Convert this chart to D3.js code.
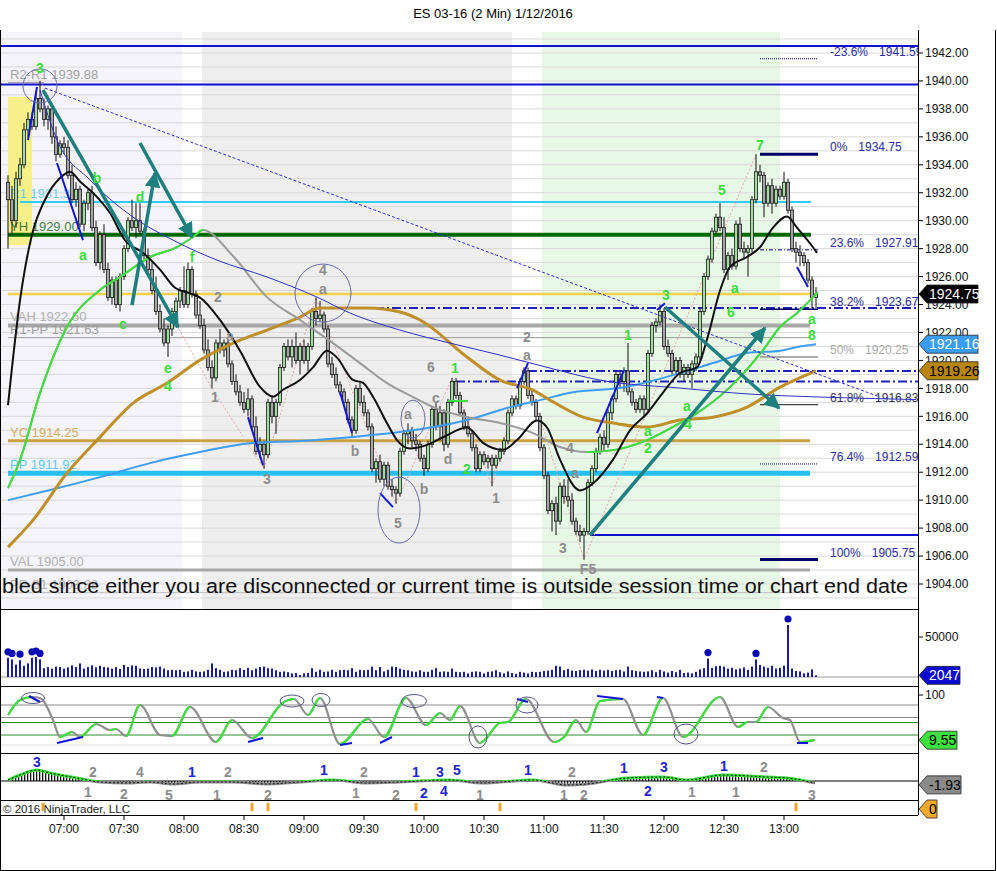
<!DOCTYPE html>
<html><head><meta charset="utf-8">
<script src="https://cdn.jsdelivr.net/npm/d3@7"></script>
<style>body{margin:0;background:#fff;} svg{display:block;font-family:Arial,"Liberation Sans",sans-serif;}</style>
</head><body><svg id="c" width="997" height="871"></svg>
<script>
// ---------------- DATA ----------------
const chartTitle = "ES 03-16 (2 Min)  1/12/2016";
const sessionStart = "06:32";
const barMinutes = 2;
const timeTickLabels = ["07:00","07:30","08:00","08:30","09:00","09:30","10:00","10:30","11:00","11:30","12:00","12:30","13:00"];
const priceTicks = [1904,1906,1908,1910,1912,1914,1916,1918,1920,1922,1924,1926,1928,1930,1932,1934,1936,1938,1940,1942];

// [open, high, low, close] per 2-min bar
const candles = [
[1932.75,1933.25,1928.0,1931.5],[1931.5,1932.5,1929.0,1930.0],[1930.0,1933.5,1929.5,1933.0],[1933.0,1934.5,1932.5,1934.0],[1934.0,1937.0,1933.75,1936.5],[1936.5,1937.75,1936.0,1937.25],[1937.25,1937.75,1936.5,1936.75],[1936.75,1939.25,1936.5,1938.75],[1938.75,1940.0,1937.75,1938.0],[1938.0,1938.75,1936.75,1937.25],
[1937.25,1938.25,1936.5,1938.0],[1938.0,1938.25,1935.5,1936.0],[1936.0,1936.75,1934.25,1934.75],[1934.75,1935.75,1934.5,1935.5],[1935.5,1936.0,1934.75,1935.25],[1935.25,1935.75,1933.0,1933.25],[1933.25,1934.0,1931.25,1931.5],[1931.5,1932.75,1931.0,1932.25],[1932.25,1932.5,1929.5,1929.75],[1929.75,1931.5,1929.25,1931.25],
[1931.25,1932.25,1930.75,1932.0],[1932.0,1932.5,1929.25,1929.5],[1929.5,1930.0,1926.75,1927.0],[1927.0,1929.25,1926.5,1929.0],[1929.0,1929.75,1926.25,1926.5],[1926.5,1927.0,1924.25,1924.5],[1924.5,1926.0,1924.0,1925.75],[1925.75,1926.0,1923.75,1924.0],[1924.0,1926.25,1923.5,1926.0],[1926.0,1928.25,1925.75,1928.0],
[1928.0,1930.25,1927.75,1930.0],[1930.0,1931.5,1929.25,1929.5],[1929.5,1931.25,1928.75,1930.0],[1930.0,1931.25,1929.0,1929.25],[1929.25,1929.5,1927.25,1927.5],[1927.5,1928.0,1926.25,1926.5],[1926.5,1927.0,1924.75,1925.0],[1925.0,1926.0,1923.25,1923.5],[1923.5,1924.0,1922.0,1922.25],[1922.25,1923.0,1921.0,1921.25],
[1921.25,1922.5,1920.25,1922.25],[1922.25,1923.75,1921.75,1923.5],[1923.5,1924.5,1923.0,1924.25],[1924.25,1925.25,1923.75,1925.0],[1925.0,1926.75,1923.75,1924.0],[1924.0,1927.0,1923.75,1926.5],[1926.5,1926.75,1924.5,1924.75],[1924.75,1925.0,1923.0,1923.25],[1923.25,1924.25,1922.25,1922.5],[1922.5,1923.0,1920.5,1920.75],
[1920.75,1921.5,1919.25,1919.5],[1919.5,1920.0,1918.0,1918.75],[1918.75,1921.5,1918.5,1921.25],[1921.25,1922.25,1920.5,1920.75],[1920.75,1921.5,1920.25,1921.25],[1921.25,1921.5,1919.5,1919.75],[1919.75,1920.0,1918.25,1918.5],[1918.5,1919.0,1917.5,1917.75],[1917.75,1918.25,1916.75,1917.0],[1917.0,1917.75,1916.25,1916.5],
[1916.5,1918.0,1916.0,1917.25],[1917.25,1917.5,1915.0,1915.25],[1915.25,1916.0,1913.25,1913.5],[1913.5,1914.5,1913.0,1914.0],[1914.0,1914.25,1912.25,1913.25],[1913.25,1917.25,1913.0,1917.0],[1917.0,1917.5,1915.5,1916.0],[1916.0,1917.25,1914.75,1917.0],[1917.0,1919.75,1916.75,1919.5],[1919.5,1921.25,1919.25,1921.0],
[1921.0,1921.5,1920.0,1920.25],[1920.25,1921.5,1919.5,1921.0],[1921.0,1922.0,1919.75,1920.0],[1920.0,1921.25,1919.0,1921.0],[1921.0,1921.5,1919.75,1920.0],[1920.0,1921.25,1919.25,1921.0],[1921.0,1923.75,1920.75,1923.5],[1923.5,1924.5,1922.5,1923.0],[1923.0,1924.25,1922.75,1923.25],[1923.25,1923.5,1922.0,1922.25],
[1922.25,1922.5,1919.5,1919.75],[1919.75,1920.25,1918.75,1919.0],[1919.0,1919.5,1918.0,1918.25],[1918.25,1918.5,1917.5,1917.75],[1917.75,1918.0,1916.75,1917.0],[1917.0,1917.25,1915.5,1915.75],[1915.75,1916.0,1914.5,1915.0],[1915.0,1918.25,1914.75,1918.0],[1918.0,1918.5,1916.75,1917.0],[1917.0,1917.5,1916.0,1916.25],
[1916.25,1916.5,1915.0,1915.25],[1915.25,1915.5,1912.0,1912.25],[1912.25,1913.0,1911.25,1912.75],[1912.75,1913.25,1911.25,1911.5],[1911.5,1912.75,1911.0,1912.5],[1912.5,1912.75,1910.75,1911.0],[1911.0,1911.5,1910.25,1910.75],[1910.75,1911.0,1909.75,1910.5],[1910.5,1913.75,1910.25,1913.5],[1913.5,1915.0,1913.25,1914.75],
[1914.75,1915.5,1914.0,1915.0],[1915.0,1915.25,1913.75,1914.25],[1914.25,1914.75,1913.5,1914.0],[1914.0,1914.25,1912.75,1913.0],[1913.0,1913.25,1911.75,1912.25],[1912.25,1914.25,1912.0,1914.0],[1914.0,1916.75,1913.75,1916.5],[1916.5,1917.0,1915.0,1915.25],[1915.25,1916.75,1914.25,1916.25],[1916.25,1916.5,1913.5,1914.0],
[1914.0,1917.25,1913.75,1917.0],[1917.0,1918.75,1916.75,1918.5],[1918.5,1918.75,1917.25,1917.5],[1917.5,1917.75,1916.0,1916.25],[1916.25,1916.5,1915.0,1915.25],[1915.25,1916.0,1914.5,1914.75],[1914.75,1915.0,1913.5,1913.75],[1913.75,1914.0,1912.0,1912.25],[1912.25,1913.5,1912.0,1913.25],[1913.25,1913.5,1912.5,1912.75],
[1912.75,1913.25,1912.25,1913.0],[1913.0,1913.25,1911.0,1912.5],[1912.5,1913.25,1912.25,1913.0],[1913.0,1913.75,1912.75,1913.5],[1913.5,1914.5,1913.25,1914.25],[1914.25,1916.5,1914.0,1916.25],[1916.25,1917.5,1916.0,1917.25],[1917.25,1917.5,1916.5,1916.75],[1916.75,1918.75,1916.5,1918.5],[1918.5,1919.5,1918.25,1919.25],
[1919.25,1919.5,1917.25,1917.5],[1917.5,1918.0,1916.75,1917.0],[1917.0,1917.25,1915.75,1916.0],[1916.0,1916.25,1913.5,1913.75],[1913.75,1914.0,1911.5,1911.75],[1911.75,1912.0,1909.0,1909.25],[1909.25,1910.0,1907.75,1909.75],[1909.75,1910.25,1907.5,1908.5],[1908.5,1911.25,1908.25,1911.0],[1911.0,1911.5,1909.75,1910.25],
[1910.25,1911.5,1909.5,1910.0],[1910.0,1910.5,1908.25,1908.5],[1908.5,1908.75,1907.5,1907.75],[1907.75,1908.25,1907.0,1907.5],[1907.5,1908.0,1905.75,1907.75],[1907.75,1911.5,1907.5,1911.25],[1911.25,1912.5,1911.0,1912.25],[1912.25,1913.75,1912.0,1913.5],[1913.5,1914.75,1913.25,1914.5],[1914.5,1915.0,1913.5,1914.0],
[1914.0,1916.5,1913.75,1916.25],[1916.25,1917.5,1915.75,1917.25],[1917.25,1919.25,1917.0,1919.0],[1919.0,1919.25,1918.0,1918.5],[1918.5,1919.5,1917.75,1919.25],[1919.25,1921.25,1917.5,1917.75],[1917.75,1918.0,1916.75,1917.0],[1917.0,1917.25,1916.25,1916.5],[1916.5,1917.5,1916.25,1917.25],[1917.25,1917.5,1916.0,1916.5],
[1916.5,1920.75,1916.25,1920.5],[1920.5,1922.75,1920.25,1922.5],[1922.5,1923.0,1922.0,1922.75],[1922.75,1924.0,1922.5,1923.5],[1923.5,1923.75,1920.75,1921.0],[1921.0,1921.5,1920.25,1920.5],[1920.5,1920.75,1919.0,1919.25],[1919.25,1920.25,1919.0,1920.0],[1920.0,1920.25,1918.75,1919.0],[1919.0,1919.75,1918.5,1919.5],
[1919.5,1919.75,1918.75,1919.0],[1919.0,1920.0,1918.0,1919.75],[1919.75,1920.5,1919.25,1920.25],[1920.25,1923.75,1920.0,1923.5],[1923.5,1926.25,1923.25,1926.0],[1926.0,1927.5,1925.75,1927.25],[1927.25,1929.5,1927.0,1929.25],[1929.25,1930.5,1929.0,1930.25],[1930.25,1931.25,1929.25,1929.5],[1929.5,1930.25,1926.25,1926.5],
[1926.5,1927.75,1925.75,1927.5],[1927.5,1928.0,1926.5,1926.75],[1926.75,1930.0,1926.5,1929.75],[1929.75,1930.25,1927.75,1928.0],[1928.0,1928.5,1927.25,1927.75],[1927.75,1928.25,1926.0,1928.0],[1928.0,1931.75,1927.75,1931.5],[1931.5,1934.75,1931.25,1933.5],[1933.5,1934.0,1932.75,1933.25],[1933.25,1933.5,1930.25,1931.25],
[1931.25,1932.75,1931.0,1932.5],[1932.5,1933.0,1930.5,1931.25],[1931.25,1932.5,1931.0,1932.25],[1932.25,1932.5,1931.5,1931.75],[1931.75,1933.5,1931.5,1932.75],[1932.75,1933.0,1930.5,1930.75],[1930.75,1931.0,1927.75,1928.0],[1928.0,1928.5,1927.0,1927.75],[1927.75,1928.25,1926.75,1927.5],[1927.5,1927.75,1926.75,1927.0],
[1927.0,1927.25,1925.5,1925.75],[1925.75,1926.0,1923.75,1924.5],[1924.5,1925.25,1923.75,1924.75]
];

const volumes = [
24000,22000,15500,21000,14000,17000,24000,25000,22000,11000,
12500,10500,13000,12500,10500,12000,14500,12500,17000,10500,
12500,14500,12000,14000,12500,12000,10500,12500,10000,15000,
12500,14500,14000,10500,10000,10500,12500,12000,13000,10500,
8500,9000,8500,9000,6500,7000,9000,7000,6500,7000,
9000,17000,11000,9000,6500,7000,9000,8500,11000,9000,
11500,8500,10500,12500,13000,11000,10500,8500,6500,7000,
6000,4500,5000,2500,4500,5000,11000,6500,9000,6500,
7000,9000,6500,8500,9000,8500,11000,6500,9000,8500,
9000,13000,8500,12500,7000,9000,13000,12500,10500,9000,
8500,7000,6500,8500,6500,6500,9000,11000,6500,7000,
6500,10500,6500,6000,6500,4500,6500,7000,6500,4500,
6500,7000,8500,6000,4500,7000,5000,4000,6500,5500,
4500,6500,6000,6500,7500,8000,9000,14000,13000,8500,
10000,8000,7500,8500,9000,8000,9500,7500,9000,8000,
9000,7500,8500,9000,7000,13000,8500,7500,7000,6500,
7000,8500,6000,9000,7000,5500,7500,6000,9000,5000,
5500,4500,6500,9500,11000,23000,11500,13500,14000,13000,
10500,11500,9500,10500,12000,9000,13000,22000,15000,13000,
11500,14000,10500,11500,14000,65000,10500,7500,7000,4500,
5500,9500,2047
];

// indicator lines: [bar index, value]
const fastMA = [[0,1916.8],[3,1924.3],[6,1929.0],[9.25,1931.5],[13,1933.05],[15.5,1933.5],[18,1932.8],[21.75,1931.85],[25.5,1930.55],[29.25,1928.6],[33.75,1927.7],[38,1926.5],[41.75,1925.2],[45.5,1924.8],[48,1924.5],[53,1922.9],[58,1920.7],[63,1918.1],[66.25,1917.4],[68.75,1917.9],[73,1918.6],[76.25,1919.5],[79.75,1920.7],[82.25,1920.2],[86.25,1918.6],[88.75,1918.4],[91.25,1917.4],[94.75,1915.5],[97.25,1914.3],[100.5,1913.7],[104.25,1913.9],[108.75,1914.5],[114.75,1915.2],[118.75,1914.1],[123.75,1913.6],[127.25,1914.3],[132.25,1915.7],[134.75,1915.2],[138,1912.9],[143,1910.7],[146.25,1911.2],[151.25,1912.9],[155.5,1915.0],[159.75,1916.2],[163.75,1917.7],[168,1919.1],[172.25,1919.5],[174.75,1921.5],[178,1925.0],[180.5,1926.7],[184.75,1927.4],[188,1928.1],[191.25,1929.5],[194.75,1930.3],[197.25,1929.5],[201.25,1928.1],[202.25,1927.7]];
const slowMA = [[0,1910.86],[3,1912.87],[8,1917.66],[14.75,1922.39],[23,1925.04],[28,1925.97],[35.5,1927.4],[42.25,1928.11],[46.25,1928.83],[48.75,1929.33],[56.25,1927.47],[64.75,1924.53],[73,1922.89],[81.25,1921.24],[88,1919.81],[94.75,1918.38],[101.25,1917.38],[106.25,1916.66],[114.75,1915.94],[123,1915.52],[131.25,1914.8],[138,1913.8],[144.75,1913.44],[151.25,1913.58],[159.75,1914.3],[168,1915.52],[172.25,1916.23],[180.5,1918.09],[188.75,1920.74],[193,1922.39],[197.25,1923.39],[202.5,1924.89]];
const goldMA = [[0,1906.64],[6.25,1908.57],[14.75,1911.94],[23,1914.51],[31.25,1916.95],[39.75,1918.38],[48,1920.02],[56.25,1921.24],[64.75,1922.17],[73,1923.1],[78,1923.75],[89.75,1923.75],[98,1923.46],[103,1922.89],[114.75,1920.24],[123,1918.59],[131.25,1917.88],[135.5,1917.16],[143.75,1915.94],[151.25,1915.52],[159.75,1915.23],[168,1915.73],[176.25,1915.94],[184.75,1916.66],[193,1918.09],[201.25,1919.17],[202,1919.26]];
const vwapLine = [[0,1910.0],[10.5,1910.72],[23,1911.65],[35.5,1912.65],[48,1913.44],[60.5,1914.08],[73,1914.23],[85.5,1914.51],[98,1914.87],[114.75,1915.73],[125.5,1916.66],[133,1917.16],[141.25,1917.73],[153,1918.02],[168,1919.09],[176.25,1919.81],[184.75,1920.53],[193,1920.7],[198,1921.0],[202,1921.16]];
const regressionArc = [[8,1939.35],[12.25,1935.77],[20.5,1932.91],[31.25,1930.26],[41.25,1928.61],[52.25,1927.18],[64.75,1925.97],[77.25,1924.53],[85.5,1923.39],[98,1922.17],[110.5,1921.24],[123,1920.38],[135.5,1919.45],[148,1918.59],[168,1918.02],[185.5,1917.59],[203,1917.38],[227,1917.2]];
const trendLine = [[9.25,1939.49],[218,1917.38]];
const zigzag = [[8,1940.0],[51,1918.0],[64,1912.25],[77,1924.5],[97,1909.75],[111,1918.75],[121,1911.0],[129,1919.5],[144,1905.75],[187,1934.75]];

// arrows and strokes: [[i1,p1],[i2,p2]]
const tealArrows = [
 [[8.75,1939.35],[42.5,1922.39]],
 [[33,1935.56],[46,1928.83]],
 [[31,1923.96],[36.75,1933.41]],
 [[145.5,1907.5],[189.25,1922.32]],
 [[164.25,1923.82],[192.75,1916.59]]
];
const blueStrokes = [
 [[5,1935.77],[7.25,1939.57]],[[12.25,1934.13],[18.75,1928.61]],[[60,1915.94],[63.75,1912.51]],
 [[83,1917.73],[86,1914.8]],[[93,1910.5],[96.25,1909.5]],[[127.25,1918.02],[130,1919.81]],
 [[147.25,1914.8],[154,1919.31]],[[162.25,1923.6],[164.25,1924.1]],[[197.25,1926.68],[200,1925.25]]
];
const mainCircles = [[8,1939.64],[78.75,1924.82],[101.25,1915.8],[97.75,1909.29]];

// price levels
const levelNames  = ["R2-R1","R1","YH","VAH","R1-PP","YC","PP","VAL","PP-S1"];
const levelValues = [1939.88,1931.34,1929.00,1922.50,1921.63,1914.25,1911.92,1905.00,1903.38];
const lastPriceLine = 1924.75;
const blueRays = [1942.5, 1939.75, 1907.5];
const dashDotRays = [1923.75, 1919.25, 1918.5];

// fibonacci retracement
const fibPcts   = ["-23.6%","0%","23.6%","38.2%","50%","61.8%","76.4%","100%"];
const fibPrices = [1941.59,1934.75,1927.91,1923.67,1920.25,1916.83,1912.59,1905.75];

// wave labels [i, price, text]
const greenLabels = [[8,1940.93,"3"],[22.25,1933.05,"b"],[18.75,1927.54,"a"],[33,1931.69,"d"],[28.75,1922.6,"c"],[46,1927.4,"f"],[40,1919.45,"e"],[40,1918.16,"4"],[111.75,1919.45,"1"],[114.75,1912.2,"2"],[155,1921.82,"1"],[160,1913.73,"2"],[160,1914.94,"a"],[164.5,1924.68,"3"],[169.75,1916.73,"a"],[170,1915.44,"4"],[178.5,1932.19,"5"],[181.75,1925.18,"a"],[180.75,1923.46,"6"],[188,1935.41,"7"],[201,1922.96,"a"],[201,1921.82,"8"]];
const grayLabels = [[52.5,1924.53,"2"],[51.75,1917.38,"1"],[55.5,1921.74,"a"],[64.75,1911.51,"3"],[78.75,1926.47,"4"],[78.75,1925.11,"a"],[86.75,1913.51,"b"],[105.75,1919.52,"6"],[107,1917.3,"c"],[100,1916.16,"a"],[104,1910.79,"b"],[110,1912.94,"d"],[97.5,1908.36,"5"],[122,1910.15,"1"],[129.75,1921.67,"2"],[129.75,1920.38,"a"],[138.75,1906.57,"3"],[140.5,1913.73,"4"],[141.75,1911.94,"a"],[145,1905.07,"F5"]];

// stochastic
const stochLevels = [80,55,45,20,0];
const stoch = [[0,60],[3,90],[6,96],[8,94],[11.25,50],[13,16],[16,26],[18,16],[22,42],[25.5,30],[27,32],[29.5,18],[33,80],[38,20],[41,18],[45.5,76],[52,6],[56,50],[61,14],[69,86],[71.5,92],[75,60],[78,94],[83,2],[90,52],[94,16],[99.5,94],[104.5,40],[108,64],[110.5,50],[113,78],[118,4],[123,44],[125,46],[129.5,92],[136.5,6],[139,16],[142,50],[144.5,26],[148,88],[153.75,92],[158.75,20],[163.75,94],[168.75,16],[178,96],[182.5,36],[185,46],[187,46],[190,76],[193.75,54],[195.5,50],[198,6],[201.75,10]];
const stochCircles = [[6.25,94],[71,88],[78.25,90],[101.5,88],[117.5,16],[129.75,80],[169.5,22]];
const stochStrokes = [[[5.25,98],[8,86]],[[12.25,4],[18.75,16]],[[60,6],[63.75,14]],[[83,0],[86,4]],[[93,4],[96,16]],[[127.25,92],[130,86]],[[147.25,98],[153.75,92]],[[162.25,96],[163.75,94]],[[197.25,4],[200,4]]];

// momentum oscillator
const osc = [[0,0.5],[3,3],[7.25,5.5],[10.5,4],[17.25,1.5],[23,-0.5],[29.75,-1],[35.5,-0.5],[41.25,-1.5],[48,-0.5],[56.25,-0.5],[64.75,-1.5],[73,-0.5],[81.25,0.5],[89.75,-1],[98,-0.5],[110.5,0.5],[118.75,-1],[123,-0.5],[131.25,0.5],[139.75,-2],[144.75,-1.5],[154.75,1.5],[163.75,2],[169.75,0.5],[178.75,3],[189.75,2],[194.75,1.5],[201.75,-1]];
const oscLabels = [[7.25,9.5,"3","b"],[21.25,4.5,"2","g"],[20,-5.5,"1","g"],[33,4.5,"4","g"],[29,-6.5,"2","g"],[40.25,-7,"5","g"],[46,4.5,"1","b"],[55,4.5,"2","g"],[52.25,-7,"1","g"],[65,-7,"2","g"],[79,5.5,"1","b"],[89,4.5,"2","g"],[87,-6,"1","g"],[97,-7,"2","g"],[102,4.5,"1","b"],[108,4.5,"3","b"],[112.25,5.5,"5","b"],[104,-6,"2","b"],[109,-5,"4","b"],[118,-7,"1","g"],[130,5.5,"1","b"],[141,4.5,"2","g"],[139,-7,"1","g"],[144,-7,"2","g"],[154,6.5,"1","b"],[164,7,"3","b"],[160,-5,"2","b"],[171,-5.5,"1","g"],[179,7.5,"1","b"],[189,7,"2","g"],[182,-5.5,"1","g"],[201,-7,"3","g"]];
const alertBars = [8.75,61,65,102,123,197];

const sessionShades = [["06:28","07:59","#f4f4fa"],["08:09","10:44","#eeeeee"],["10:59","12:58","#e7f8e7"]];
const statusMessage = "bled since either you are disconnected or current time is outside session time or chart end date";

// ---------------- DRAW ----------------
const W=997,H=871, L=1, R=918;
const mainTop=32, mainBot=609, volBot=686, stBot=753, oscBot=800, axisY=815;
const svg = d3.select('#c');
const defs = svg.append('defs');
const parseHM = s => { const [h,m]=s.split(':').map(Number); return new Date(2016,0,12,h,m); };
const t0 = parseHM(sessionStart);
const barTime = i => new Date(t0.getTime() + i*barMinutes*60000);
const x = d3.scaleTime().domain([barTime(0), barTime(candles.length-1)]).range([8, 816]);
const xi = i => x(barTime(i));
const yP = d3.scaleLinear().domain([1904,1942]).range([584,53]);
const yV = d3.scaleLinear().domain([0,50000]).range([677,637]);
const yS = d3.scaleLinear().domain([0,100]).range([745,695]);
const yO = d3.scaleLinear().domain([-10,10]).range([801,761]);

function clip(id,y0,y1){ defs.append('clipPath').attr('id',id).append('rect').attr('x',L).attr('y',y0).attr('width',R-L).attr('height',y1-y0); }
clip('cMain',mainTop,mainBot); clip('cVol',mainBot,volBot); clip('cSt',volBot,stBot); clip('cOsc',stBot,oscBot);

svg.append('rect').attr('width',W).attr('height',H).attr('fill','#fff');
svg.append('text').attr('x',493).attr('y',18).attr('text-anchor','middle').attr('font-size',13).text(chartTitle);

const gM = svg.append('g').attr('clip-path','url(#cMain)');
// session shading
sessionShades.forEach(s=>{
  gM.append('rect').attr('x',x(parseHM(s[0]))).attr('y',mainTop).attr('width',x(parseHM(s[1]))-x(parseHM(s[0]))).attr('height',mainBot-mainTop).attr('fill',s[2]);
});
// grid
d3.range(1903,1944).forEach(p=>{
  gM.append('line').attr('x1',L).attr('x2',R).attr('y1',yP(p)).attr('y2',yP(p)).attr('stroke','#d9d9d9').attr('stroke-width',1);
});
// yellow highlight box
gM.append('rect').attr('x',xi(0)).attr('width',xi(6)-xi(0)).attr('y',yP(1938.85)).attr('height',yP(1928.26)-yP(1938.85)).attr('fill','#f7f08a');

// levels
const lvStyle = {
 "R2-R1":{c:"#999",w:1,from:0,to:9,tc:"#999"},
 "R1":{c:"#33ccf5",w:2,from:3,to:200.75,tc:"#66ccee"},
 "YH":{c:"#006a00",w:4,from:0,to:200.75,tc:"#2f6f2f"},
 "VAH":{c:"#a8a8a8",w:4,from:0,to:200.5,tc:"#aaa"},
 "R1-PP":{c:"#999",w:1,from:0,to:200.5,tc:"#999"},
 "YC":{c:"#c9a042",w:3,from:0,to:200.5,tc:"#d0a850"},
 "PP":{c:"#25c0f0",w:5,from:0,to:200.5,tc:"#55c5ee"},
 "VAL":{c:"#a8a8a8",w:3,from:0,to:200.5,tc:"#aaa"},
 "PP-S1":{c:"#bbb",w:1,from:0,to:200.5,tc:"#aaa"}
};
gM.append('line').attr('x1',xi(0)).attr('x2',xi(200.5)).attr('y1',yP(lastPriceLine)).attr('y2',yP(lastPriceLine)).attr('stroke','#f3d24a').attr('stroke-width',2.5);
levelNames.forEach((n,k)=>{
  const s=lvStyle[n], v=levelValues[k];
  gM.append('line').attr('x1',xi(s.from)).attr('x2',xi(s.to)).attr('y1',yP(v)).attr('y2',yP(v)).attr('stroke',s.c).attr('stroke-width',s.w);
});
levelNames.forEach((n,k)=>{
  const s=lvStyle[n], v=levelValues[k];
  gM.append('text').attr('x',xi(0)+2).attr('y',yP(v)-4).attr('font-size',13).attr('fill',s.tc).attr('opacity',0.9).text(n+" "+v.toFixed(2));
});
// blue rays & dash-dot rays
blueRays.forEach((p,k)=>{
  const from = k===2 ? xi(145.5) : L;
  gM.append('line').attr('x1',from).attr('x2',R).attr('y1',yP(p)).attr('y2',yP(p)).attr('stroke','#1010d0').attr('stroke-width',2);
});
const ddFrom=[79,130,112];
dashDotRays.forEach((p,k)=>{
  gM.append('line').attr('x1',xi(ddFrom[k])).attr('x2',R).attr('y1',yP(p)).attr('y2',yP(p)).attr('stroke','#2020c0').attr('stroke-width',2).attr('stroke-dasharray','9,3,2,3');
});

// fib
const fibStyle=[{c:"#000080",w:1,d:"1,1"},{c:"#000066",w:3,d:null},{c:"#000080",w:1,d:"4,2,1,2"},{c:"#000060",w:1.5,d:null},{c:"#aaa",w:2,d:null},{c:"#111",w:1,d:null},{c:"#000080",w:1,d:"1,1"},{c:"#000066",w:3,d:null}];
fibPrices.forEach((p,k)=>{
  const s=fibStyle[k];
  const ln=gM.append('line').attr('x1',xi(188)).attr('x2',xi(202.5)).attr('y1',yP(p)).attr('y2',yP(p)).attr('stroke',s.c).attr('stroke-width',s.w);
  if(s.d) ln.attr('stroke-dasharray',s.d);
  const tc = k===4 ? "#aaa" : (k===5 ? "#333355" : "#2c2c9c");
  const t1=gM.append('text').attr('x',830).attr('y',yP(p)-3).attr('font-size',12).attr('fill',tc).text(fibPcts[k]);
  const w=t1.node().getComputedTextLength();
  gM.append('text').attr('x',830+w+11).attr('y',yP(p)-3).attr('font-size',12).attr('fill',tc).text(p.toFixed(2));
});

// zigzag
const lineP = d3.line().x(d=>xi(d[0])).y(d=>yP(d[1]));
gM.append('path').attr('d',lineP(zigzag)).attr('fill','none').attr('stroke','#e6a3a3').attr('stroke-width',1).attr('stroke-dasharray','2,2');

// candles
const gC = gM.append('g');
candles.forEach((c,i)=>{
  const cx=xi(i), up=c[3]>=c[0];
  gC.append('line').attr('x1',cx).attr('x2',cx).attr('y1',yP(c[1])).attr('y2',yP(c[2])).attr('stroke','#111').attr('stroke-width',1);
  const top=yP(Math.max(c[0],c[3])), bot=yP(Math.min(c[0],c[3]));
  gC.append('rect').attr('x',cx-1.6).attr('width',3.2).attr('y',top).attr('height',Math.max(1,bot-top)).attr('fill',up?'#a2dca2':'#a5a5a5').attr('stroke','#1a1a1a').attr('stroke-width',0.8);
});

// two-tone helper
let clipN=0;
function twoTone(g, pts, fx, fy, up, down, width){
  const ln = d3.line().x(d=>fx(d[0])).y(d=>fy(d[1])).curve(d3.curveMonotoneX);
  g.append('path').attr('d',ln(pts)).attr('fill','none').attr('stroke',down).attr('stroke-width',width);
  const id='tt'+(clipN++);
  const cp=defs.append('clipPath').attr('id',id);
  for(let k=0;k<pts.length-1;k++){
    if(pts[k+1][1]>pts[k][1]){
      cp.append('rect').attr('x',fx(pts[k][0])-0.3).attr('y',0).attr('width',fx(pts[k+1][0])-fx(pts[k][0])+0.6).attr('height',H);
    }
  }
  g.append('g').attr('clip-path',`url(#${id})`).append('path').attr('d',ln(pts)).attr('fill','none').attr('stroke',up).attr('stroke-width',width);
}
const curveP = d3.line().x(d=>xi(d[0])).y(d=>yP(d[1])).curve(d3.curveMonotoneX);
gM.append('path').attr('d',curveP(vwapLine)).attr('fill','none').attr('stroke','#3d9df5').attr('stroke-width',2);
gM.append('path').attr('d',curveP(goldMA)).attr('fill','none').attr('stroke','#bf8f2a').attr('stroke-width',3);
twoTone(gM, slowMA, xi, yP, '#3ee03e', '#9a9a9a', 2);
gM.append('path').attr('d',curveP(regressionArc)).attr('fill','none').attr('stroke','#3030c8').attr('stroke-width',1);
gM.append('path').attr('d',lineP(trendLine)).attr('fill','none').attr('stroke','#3030c8').attr('stroke-width',1).attr('stroke-dasharray','3,2');
gM.append('path').attr('d',curveP(fastMA)).attr('fill','none').attr('stroke','#111').attr('stroke-width',2);
gM.append('line').attr('x1',xi(110)).attr('x2',xi(115)).attr('y1',yP(1917.1)).attr('y2',yP(1917.1)).attr('stroke','#3ee03e').attr('stroke-width',2);

// blue strokes
blueStrokes.forEach(s=>{
  gM.append('line').attr('x1',xi(s[0][0])).attr('y1',yP(s[0][1])).attr('x2',xi(s[1][0])).attr('y2',yP(s[1][1])).attr('stroke','#1414d8').attr('stroke-width',2);
});
// teal arrows
defs.append('marker').attr('id','ah').attr('viewBox','0 0 10 10').attr('refX',9).attr('refY',5).attr('markerWidth',4.5).attr('markerHeight',4.5).attr('orient','auto')
  .append('path').attr('d','M0,0 L10,5 L0,10 z').attr('fill','#1e7f7f');
tealArrows.forEach(a=>{
  gM.append('line').attr('x1',xi(a[0][0])).attr('y1',yP(a[0][1])).attr('x2',xi(a[1][0])).attr('y2',yP(a[1][1])).attr('stroke','#1e7f7f').attr('stroke-width',3.5).attr('marker-end','url(#ah)');
});
// circles
const circR=[[17,17],[28,29],[12,19],[21,33]];
mainCircles.forEach((c,k)=>{
  gM.append('ellipse').attr('cx',xi(c[0])).attr('cy',yP(c[1])).attr('rx',circR[k][0]).attr('ry',circR[k][1]).attr('fill','none').attr('stroke','#6a6aa8').attr('stroke-width',1);
});
// labels
greenLabels.forEach(d=>{
  gM.append('text').attr('x',xi(d[0])).attr('y',yP(d[1])).attr('dy','0.36em').attr('text-anchor','middle').attr('font-size',14).attr('font-weight','bold').attr('fill','#3bdc3b').text(d[2]);
});
grayLabels.forEach(d=>{
  gM.append('text').attr('x',xi(d[0])).attr('y',yP(d[1])).attr('dy','0.36em').attr('text-anchor','middle').attr('font-size',14).attr('font-weight','bold').attr('fill','#8c8c8c').text(d[2]);
});
// status message
gM.append('text').attr('x',2).attr('y',yP(1903.38)+0).attr('font-size',20).attr('fill','#111').attr('textLength',906).attr('lengthAdjust','spacingAndGlyphs').text(statusMessage);

// ---- Volume panel
const gV = svg.append('g').attr('clip-path','url(#cVol)');
gV.append('line').attr('x1',L).attr('x2',R).attr('y1',yV(0)).attr('y2',yV(0)).attr('stroke','#999');
volumes.forEach((v,i)=>{
  gV.append('rect').attr('x',xi(i)-1).attr('width',2).attr('y',yV(v)).attr('height',yV(0)-yV(v)).attr('fill','#1b1b9e');
  if(v>=20000) gV.append('circle').attr('cx',xi(i)).attr('cy',yV(v)-6).attr('r',3.6).attr('fill','#0a0ab8');
});

// ---- Stochastic panel
const gS = svg.append('g').attr('clip-path','url(#cSt)');
const stC=["#8a8a8a","#8a8a8a","#2d8a2d","#2d8a2d","#dddddd"];
stochLevels.forEach((v,k)=>{
  gS.append('line').attr('x1',L).attr('x2',R).attr('y1',yS(v)).attr('y2',yS(v)).attr('stroke',stC[k]).attr('stroke-width',1);
});
twoTone(gS, stoch, xi, yS, '#3ee03e', '#8f8f8f', 2.2);
stochStrokes.forEach(s=>{
  gS.append('line').attr('x1',xi(s[0][0])).attr('y1',yS(s[0][1])).attr('x2',xi(s[1][0])).attr('y2',yS(s[1][1])).attr('stroke','#1414d8').attr('stroke-width',2);
});
const stR=[[11.5,5.5],[12,6],[9,6.5],[12.5,6.5],[9,11],[11,8],[12,10]];
stochCircles.forEach((c,k)=>{
  gS.append('ellipse').attr('cx',xi(c[0])).attr('cy',yS(c[1])).attr('rx',stR[k][0]).attr('ry',stR[k][1]).attr('fill','none').attr('stroke','#555588').attr('stroke-width',1);
});

// ---- Oscillator panel
const gO = svg.append('g').attr('clip-path','url(#cOsc)');
const pat = defs.append('pattern').attr('id','hatch').attr('width',3).attr('height',4).attr('patternUnits','userSpaceOnUse');
pat.append('rect').attr('width',3).attr('height',4).attr('fill','#fff');
pat.append('rect').attr('width',1.3).attr('height',4).attr('fill','#111');
const oArea = d3.area().x(d=>xi(d[0])).y0(yO(0)).y1(d=>yO(d[1])).curve(d3.curveMonotoneX);
gO.append('path').attr('d',oArea(osc)).attr('fill','url(#hatch)');
gO.append('line').attr('x1',L).attr('x2',R).attr('y1',yO(0)).attr('y2',yO(0)).attr('stroke','#000').attr('stroke-width',1);
const oLine = d3.line().x(d=>xi(d[0])).y(d=>yO(d[1])).curve(d3.curveMonotoneX);
defs.append('clipPath').attr('id','oPos').append('rect').attr('x',0).attr('y',0).attr('width',W).attr('height',yO(0));
defs.append('clipPath').attr('id','oNeg').append('rect').attr('x',0).attr('y',yO(0)).attr('width',W).attr('height',H);
gO.append('g').attr('clip-path','url(#oPos)').append('path').attr('d',oLine(osc)).attr('fill','none').attr('stroke','#3ee03e').attr('stroke-width',3);
gO.append('g').attr('clip-path','url(#oNeg)').append('path').attr('d',oLine(osc)).attr('fill','none').attr('stroke','#8d8d8d').attr('stroke-width',3);
gO.append('path').attr('d',oLine(osc)).attr('fill','none').attr('stroke','#111').attr('stroke-width',1).attr('stroke-dasharray','2,2');
oscLabels.forEach(d=>{
  gO.append('text').attr('x',xi(d[0])).attr('y',yO(d[1])).attr('dy','0.36em').attr('text-anchor','middle').attr('font-size',14).attr('font-weight','bold').attr('fill',d[3]==='b'?'#2424c8':'#8c8c8c').text(d[2]);
});

// ---- Alert panel
svg.append('text').attr('x',3).attr('y',813).attr('font-size',11.5).attr('fill','#222').text('\u00A9 2016 NinjaTrader, LLC');
alertBars.forEach(i=>{
  svg.append('rect').attr('x',xi(i)-1.5).attr('width',3).attr('y',803).attr('height',8).attr('fill','#f0a326');
});

// ---- frames & axes
const frame = svg.append('g').attr('stroke','#000').attr('stroke-width',1);
[mainBot,volBot,stBot,oscBot,axisY].forEach(y=>frame.append('line').attr('x1',L).attr('x2',R).attr('y1',y+0.5).attr('y2',y+0.5));
frame.append('line').attr('x1',R+0.5).attr('x2',R+0.5).attr('y1',mainTop-2).attr('y2',axisY);
frame.append('line').attr('x1',0.5).attr('x2',0.5).attr('y1',mainTop-2).attr('y2',870.5);
frame.append('line').attr('x1',995.5).attr('x2',995.5).attr('y1',mainTop-2).attr('y2',870.5);
frame.append('line').attr('x1',0).attr('x2',996).attr('y1',870.5).attr('y2',870.5);

const gA = svg.append('g').attr('font-size',12).attr('fill','#111');
priceTicks.forEach(p=>{
  gA.append('line').attr('x1',R).attr('x2',R+5).attr('y1',yP(p)).attr('y2',yP(p)).attr('stroke','#000');
  gA.append('text').attr('x',R+7).attr('y',yP(p)).attr('dy','0.35em').text(d3.format('.2f')(p));
});
[[yV(50000),'50000'],[yS(100),'100']].forEach(t=>{
  gA.append('line').attr('x1',R).attr('x2',R+5).attr('y1',t[0]).attr('y2',t[0]).attr('stroke','#000');
  gA.append('text').attr('x',R+7).attr('y',t[0]).attr('dy','0.35em').text(t[1]);
});
timeTickLabels.forEach(s=>{
  const tx=x(parseHM(s));
  gA.append('line').attr('x1',tx).attr('x2',tx).attr('y1',axisY).attr('y2',axisY+5).attr('stroke','#000');
  gA.append('text').attr('x',tx).attr('y',axisY+18).attr('text-anchor','middle').text(s);
});

// value flags
function flag(yv, text, fill, tc, w){
  svg.append('path').attr('d',`M${R+1},${yv} L${R+9},${yv-9} L${R+w},${yv-9} L${R+w},${yv+9} L${R+9},${yv+9} Z`).attr('fill',fill).attr('stroke','#222').attr('stroke-width',0.8);
  svg.append('text').attr('x',R+11).attr('y',yv).attr('dy','0.36em').attr('font-size',14).attr('fill',tc).text(text);
}
flag(yP(candles[candles.length-1][3]), d3.format('.2f')(candles[candles.length-1][3]), '#000', '#fff', 60);
flag(yP(vwapLine[vwapLine.length-1][1]), d3.format('.2f')(vwapLine[vwapLine.length-1][1]), '#3a9cf2', '#fff', 60);
flag(yP(goldMA[goldMA.length-1][1]), d3.format('.2f')(goldMA[goldMA.length-1][1]), '#b8860b', '#000', 60);
flag(yV(volumes[volumes.length-1]), String(volumes[volumes.length-1]), '#0a0ad0', '#fff', 42);
flag(yS(9.55), '9.55', '#3ee03e', '#000', 39);
flag(yO(-1.93), '-1.93', '#8a8a8a', '#000', 43);
flag(809, '0', '#f3a92a', '#000', 19);
</script>
</body></html>
